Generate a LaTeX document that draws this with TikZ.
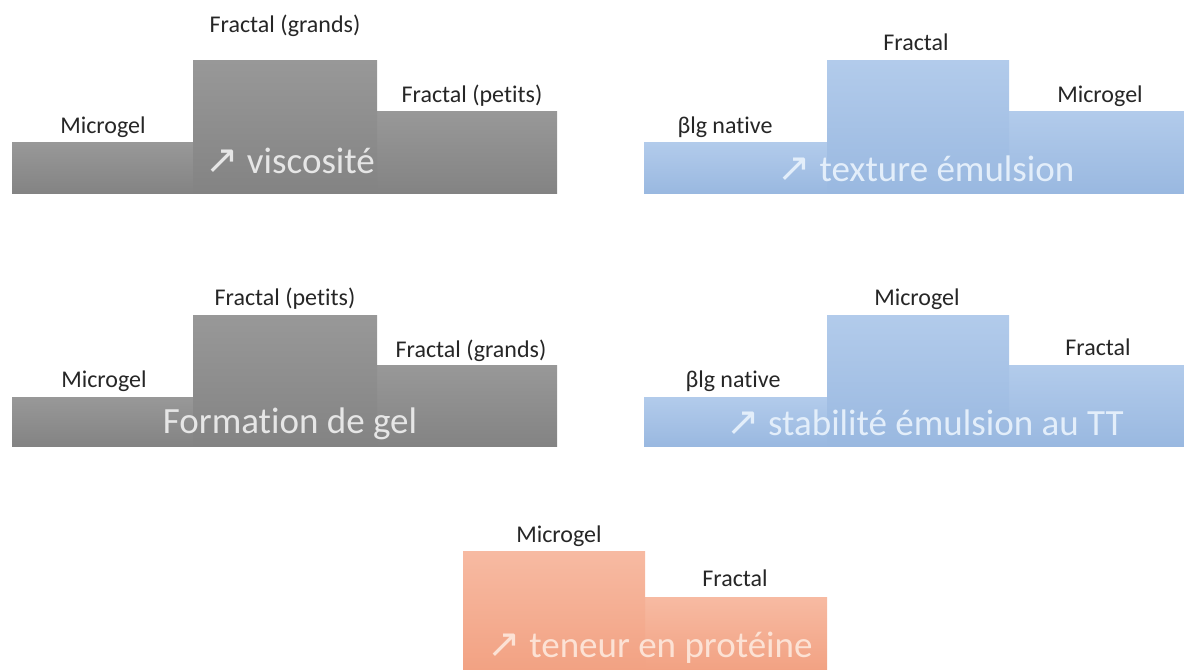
\documentclass[tikz,border=0pt]{standalone}
\usepackage{fontspec}
\setmainfont{Carlito}[Ligatures={NoCommon,NoContextual,NoRare},Contextuals={NoAlternate}]
\newfontfamily\arrowfont{DejaVu Sans}
\usepackage{xcolor}
\usepackage{tikz}
\usetikzlibrary{positioning}
\definecolor{ink}{HTML}{262626}
\definecolor{greytop}{HTML}{989898}
\definecolor{greybot}{HTML}{838383}
\definecolor{greytxt}{HTML}{E6E6E6}
\definecolor{bluetop}{HTML}{B2CBEB}
\definecolor{bluebot}{HTML}{99B8E0}
\definecolor{bluetxt}{HTML}{E3EEFA}
\definecolor{salmontop}{HTML}{F7BAA2}
\definecolor{salmonbot}{HTML}{F2A283}
\definecolor{salmontxt}{HTML}{FCE2D5}
\tikzset{
  blk/.style={top color=#1top,bottom color=#1bot,inner sep=0pt,anchor=south west},
  lbl/.style={font=\fontsize{24}{28}\selectfont,text=ink,anchor=base},
  big/.style={font=\fontsize{37}{40}\selectfont,text=#1,anchor=base},
}
\newcommand{\uparr}{{\arrowfont\fontsize{40}{42}\selectfont ↗}}

\begin{document}
\begin{tikzpicture}[x=1pt,y=-1pt]
    \useasboundingbox (0,0) rectangle (1184,670);
    % viscosite
    \node[blk=grey,minimum width=181pt,minimum height=51pt] (vl) at (12,194) {};
    \node[blk=grey,minimum width=180pt,minimum height=82pt] (vr) at (377,194) {};
    \node[blk=grey,minimum width=184pt,minimum height=133pt] (vc) at (193,194) {};
    \node[lbl] (vlt) at (103,133) {Microgel};
    \node[lbl] (vct) at (285,32) {Fractal (grands)};
    \node[lbl] (vrt) at (472,102) {Fractal (petits)};
    \node[big=greytxt] (vtxt) at (290,173) {\uparr\ viscosité};
    % texture
    \node[blk=blue,minimum width=183pt,minimum height=51pt] (tl) at (644,194) {};
    \node[blk=blue,minimum width=175pt,minimum height=82pt] (tr) at (1009,194) {};
    \node[blk=blue,minimum width=182pt,minimum height=133pt] (tc) at (827,194) {};
    \node[lbl] (tlt) at (725,133) {βlg native};
    \node[lbl] (tct) at (916,50) {Fractal};
    \node[lbl] (trt) at (1100,102) {Microgel};
    \node[big=bluetxt] (ttxt) at (926,181) {\uparr\ texture émulsion};
    % gel
    \node[blk=grey,minimum width=181pt,minimum height=49pt] (gl) at (12,447) {};
    \node[blk=grey,minimum width=180pt,minimum height=81pt] (gr) at (377,447) {};
    \node[blk=grey,minimum width=184pt,minimum height=131pt] (gc) at (193,447) {};
    \node[lbl] (glt) at (104,387) {Microgel};
    \node[lbl] (gct) at (285,305) {Fractal (petits)};
    \node[lbl] (grt) at (471,357) {Fractal (grands)};
    \node[big=greytxt] (gtxt) at (290,433) {Formation de gel};
    % stabilite
    \node[blk=blue,minimum width=183pt,minimum height=49pt] (sl) at (644,447) {};
    \node[blk=blue,minimum width=175pt,minimum height=81pt] (sr) at (1009,447) {};
    \node[blk=blue,minimum width=182pt,minimum height=131pt] (sc) at (827,447) {};
    \node[lbl] (slt) at (733,387) {βlg native};
    \node[lbl] (sct) at (917,305) {Microgel};
    \node[lbl] (srt) at (1098,355) {Fractal};
    \node[big=bluetxt] (stxt) at (925,435) {\uparr\ stabilité émulsion au TT};
    % proteine
    \node[blk=salmon,minimum width=182pt,minimum height=72pt] (pr) at (645,670) {};
    \node[blk=salmon,minimum width=182pt,minimum height=118pt] (pl) at (463,670) {};
    \node[lbl] (plt) at (559,542) {Microgel};
    \node[lbl] (prt) at (735,586) {Fractal};
    \node[big=salmontxt] (ptxt) at (650,657) {\uparr\ teneur en protéine};
\end{tikzpicture}
\end{document}
